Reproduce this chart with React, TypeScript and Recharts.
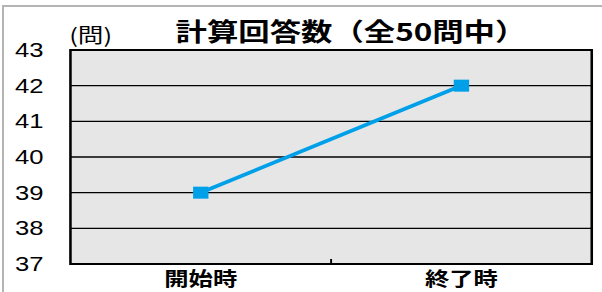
import { CartesianGrid, Line, LineChart, ReferenceArea, XAxis, YAxis } from "recharts";

const categories = ["開始時", "終了時"];
const answered = [39, 42];
const yTicks = [37, 38, 39, 40, 41, 42, 43];

const title = "計算回答数（全50問中）";
const unitLabel = "(問)";

// each category sits in the middle of its band on a numeric x axis
const data = categories.map((label, i) => ({ label, pos: i + 0.5, value: answered[i] }));
const xTicks = [0.5, 1, 1.5];

// the reference is horizontally stretched, so draw narrow and scale X
const W = 470;
const H = 292;
const SX = 602 / W;

const LINE_COLOR = "#00a0e9";
const LATIN = "'Liberation Sans', 'Noto Sans CJK JP', sans-serif";
const CJK = "'Noto Sans CJK JP', sans-serif";

function SquareDot(props: any) {
  const { cx, cy } = props;
  if (cx == null || cy == null) return null;
  return <rect x={cx - 6} y={cy - 6} width={12} height={12} fill={LINE_COLOR} />;
}

function CategoryTick(props: any) {
  const { x, y, payload } = props;
  const v = payload.value;
  if (Number.isInteger(v)) {
    // band boundary: short tick pointing into the plot
    return <line x1={x} x2={x} y1={y} y2={y - 5} stroke="#000" strokeWidth={1.5} />;
  }
  const label = categories[Math.floor(v)];
  return (
    <text x={x} y={y + 9} dy="0.71em" textAnchor="middle" fill="#000" fontSize={19} fontWeight={700} fontFamily={CJK}>
      {label}
    </text>
  );
}

export default function App() {
  return (
    <div style={{ position: "absolute", left: 0, top: 0, width: 602, height: H, overflow: "hidden", background: "#fff" }}>
      <div
        style={{
          position: "absolute",
          left: 2,
          top: 5,
          right: 0,
          bottom: 0,
          borderTop: "2px solid #b4b4b4",
          borderLeft: "2px solid #b4b4b4",
        }}
      />
      <div style={{ position: "absolute", left: 0, top: 0, width: W, height: H, transform: `scaleX(${SX})`, transformOrigin: "0 0" }}>
        <div
          style={{
            position: "absolute",
            left: 74,
            top: 19,
            width: 400,
            textAlign: "center",
            fontFamily: CJK,
            fontWeight: 700,
            fontSize: 24.5,
            lineHeight: "24.5px",
            color: "#000",
            whiteSpace: "nowrap",
          }}
        >
          {title}
        </div>
        <div
          style={{
            position: "absolute",
            left: 54,
            top: 25,
            fontFamily: CJK,
            fontSize: 20,
            lineHeight: "20px",
            color: "#000",
            whiteSpace: "nowrap",
          }}
        >
          {unitLabel}
        </div>
        <LineChart width={W} height={H} data={data} margin={{ top: 50, right: 8, bottom: 0, left: 0 }}>
          <CartesianGrid vertical={false} stroke="#000" strokeWidth={1.3} fill="#e6e6e6" fillOpacity={1} />
          <XAxis
            dataKey="pos"
            type="number"
            domain={[0, categories.length]}
            ticks={xTicks}
            interval={0}
            axisLine={false}
            tickLine={false}
            tickSize={0}
            tickMargin={0}
            height={28}
            tick={<CategoryTick />}
          />
          <YAxis
            domain={[37, 43]}
            ticks={yTicks}
            interval={0}
            width={55}
            axisLine={false}
            tickLine={false}
            tickSize={0}
            tickMargin={21}
            tick={{ fill: "#000", fontSize: 20, fontFamily: LATIN }}
          />
          <ReferenceArea x1={0} x2={categories.length} y1={37} y2={43} fill="none" stroke="#000" strokeWidth={2} />
          <Line
            type="linear"
            dataKey="value"
            stroke={LINE_COLOR}
            strokeWidth={3.5}
            dot={<SquareDot />}
            activeDot={false}
            isAnimationActive={false}
          />
        </LineChart>
      </div>
    </div>
  );
}
